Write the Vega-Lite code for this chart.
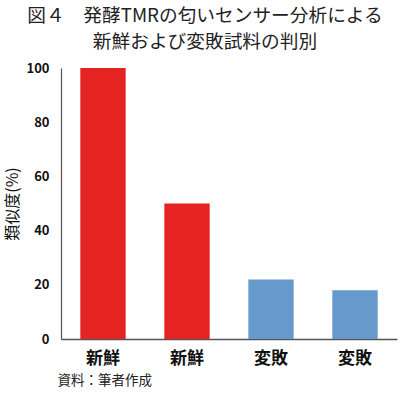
{
  "$schema": "https://vega.github.io/schema/vega-lite/v6.json",
  "width": 336,
  "height": 271,
  "autosize": {"type": "none"},
  "padding": {"left": 61, "top": 68, "right": 3, "bottom": 57},
  "background": "white",
  "config": {
    "font": "Noto Sans CJK JP",
    "view": {"stroke": null}
  },
  "title": {
    "text": ["図４　発酵TMRの匂いセンサー分析による", "新鮮および変敗試料の判別"],
    "fontSize": 18.7,
    "fontWeight": "normal",
    "color": "#222222",
    "lineHeight": 26,
    "offset": 10,
    "dx": 4,
    "anchor": "middle",
    "frame": "bounds"
  },
  "data": {
    "values": [
      {"id": "a", "label": "新鮮", "value": 100, "group": "新鮮"},
      {"id": "b", "label": "新鮮", "value": 50, "group": "新鮮"},
      {"id": "c", "label": "変敗", "value": 22, "group": "変敗"},
      {"id": "d", "label": "変敗", "value": 18, "group": "変敗"}
    ]
  },
  "mark": {"type": "bar"},
  "encoding": {
    "x": {
      "field": "id",
      "type": "nominal",
      "sort": null,
      "scale": {"paddingInner": 0.46, "paddingOuter": 0.23},
      "axis": {
        "labelExpr": "datum.value == 'a' || datum.value == 'b' ? '新鮮' : '変敗'",
        "labelAngle": 0,
        "labelFontSize": 17,
        "labelFontWeight": "bold",
        "labelColor": "#111111",
        "labelPadding": 11,
        "ticks": false,
        "domainColor": "#555555",
        "domainWidth": 1.5,
        "title": "資料：筆者作成",
        "titleFontSize": 13.5,
        "titleFontWeight": "normal",
        "titleColor": "#222222",
        "titleAnchor": "start",
        "titleAlign": "left",
        "titleX": -4,
        "titlePadding": 7
      }
    },
    "y": {
      "field": "value",
      "type": "quantitative",
      "scale": {"domain": [0, 100]},
      "axis": {
        "values": [0, 20, 40, 60, 80, 100],
        "grid": false,
        "ticks": false,
        "labelFontSize": 13,
        "labelFontWeight": "bold",
        "labelColor": "#111111",
        "labelPadding": 12,
        "domainColor": "#555555",
        "domainWidth": 1.2,
        "title": "類似度(%)",
        "titleFontSize": 16,
        "titleFontWeight": "normal",
        "titleColor": "#111111",
        "titlePadding": 5
      }
    },
    "color": {
      "field": "group",
      "type": "nominal",
      "scale": {"domain": ["新鮮", "変敗"], "range": ["#e52421", "#6699cc"]},
      "legend": null
    }
  }
}
